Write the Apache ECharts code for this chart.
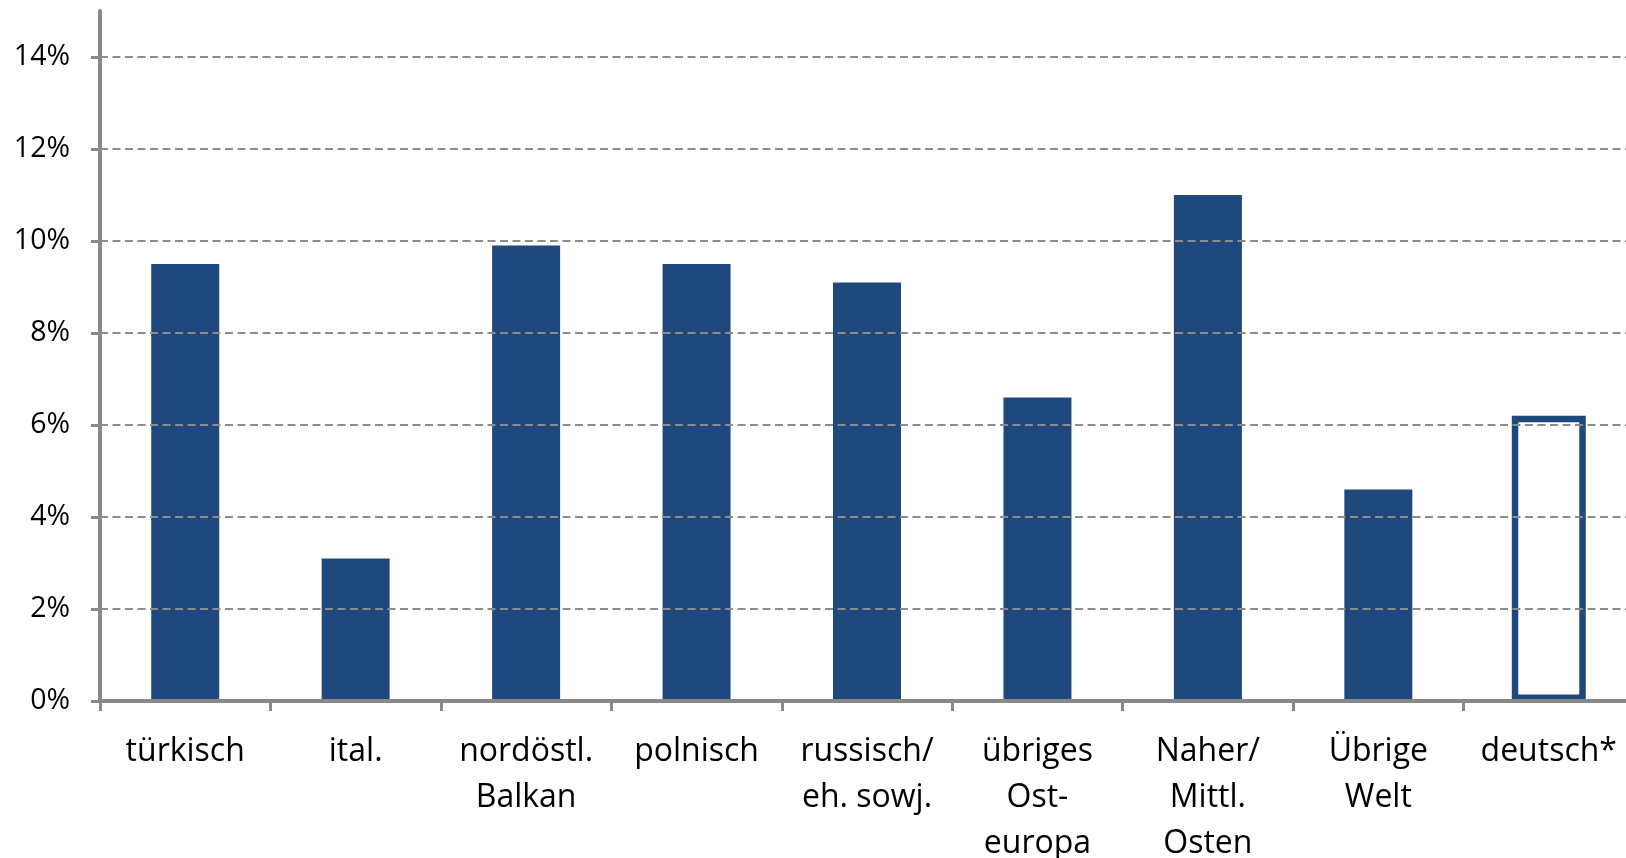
<!DOCTYPE html>
<html>
<head>
<meta charset="utf-8">
<script src="https://cdn.jsdelivr.net/npm/echarts@6/dist/echarts.min.js"></script>
<style>
  html, body { margin: 0; padding: 0; background: #ffffff; }
  #chart { width: 1626px; height: 858px; }
</style>
</head>
<body>
<div id="chart"></div>
<script>
// Herkunftsgruppen (x-axis categories)
const categories = [
  'türkisch',
  'ital.',
  'nordöstl.\nBalkan',
  'polnisch',
  'russisch/\neh. sowj.',
  'übriges\nOst-\neuropa',
  'Naher/\nMittl.\nOsten',
  'Übrige\nWelt',
  'deutsch*'
];

// Anteile in Prozent
const shares = [9.5, 3.1, 9.9, 9.5, 9.1, 6.6, 11.0, 4.6, 6.2];

// Y-axis tick values (percent)
const yTicks = [0, 2, 4, 6, 8, 10, 12, 14];

// Comparison group, drawn as an outlined bar
const outlinedCategory = 'deutsch*';

const BAR_BLUE = '#1f497d';
const AXIS_GREY = '#898989';
const FONT = '"Open Sans", "Noto Sans", sans-serif';

// Filled bars for the migrant groups, outlined bar for the comparison group
const filledData = shares.map((v, i) => categories[i] === outlinedCategory ? '-' : v);
const outlinedData = shares.map((v, i) => categories[i] === outlinedCategory ? v : '-');

const chart = echarts.init(document.getElementById('chart'), null, { renderer: 'canvas' });

chart.setOption({
  animation: false,
  backgroundColor: '#ffffff',
  grid: {
    left: 100,
    right: -8,
    top: 11,
    bottom: 157,
    containLabel: false,
    outerBoundsMode: 'none'
  },
  xAxis: [{
    type: 'category',
    data: categories,
    z: 5,
    axisLine: { show: true, lineStyle: { color: AXIS_GREY, width: 4 } },
    axisTick: { show: true, length: 10, alignWithLabel: false, lineStyle: { color: AXIS_GREY, width: 3 } },
    axisLabel: {
      interval: 0,
      color: '#000000',
      fontFamily: FONT,
      fontSize: 32,
      lineHeight: 46,
      margin: 28,
      align: 'center'
    },
    splitLine: { show: false }
  }, {
    // overlay axis so the outlined bar gets its own width
    type: 'category',
    data: categories,
    show: false
  }],
  yAxis: {
    type: 'value',
    min: 0,
    max: 15,
    interval: 2,
    z: 5,
    axisLine: { show: true, lineStyle: { color: AXIS_GREY, width: 4 } },
    axisTick: {
      show: true,
      length: 9,
      customValues: yTicks,
      lineStyle: { color: AXIS_GREY, width: 3 }
    },
    axisLabel: {
      customValues: yTicks,
      formatter: v => v + '%',
      color: '#000000',
      fontFamily: FONT,
      fontSize: 28.5,
      margin: 30
    },
    splitLine: {
      show: true,
      showMinLine: false,
      lineStyle: { color: '#8c8c8c', width: 2, type: [8, 4.5] }
    }
  },
  series: [{
    type: 'bar',
    xAxisIndex: 0,
    data: filledData,
    barWidth: 68,
    itemStyle: { color: BAR_BLUE }
  }, {
    type: 'bar',
    xAxisIndex: 1,
    data: outlinedData,
    barWidth: 74,
    itemStyle: { color: '#ffffff', borderColor: BAR_BLUE, borderWidth: 6.5 }
  }]
});
</script>
</body>
</html>
